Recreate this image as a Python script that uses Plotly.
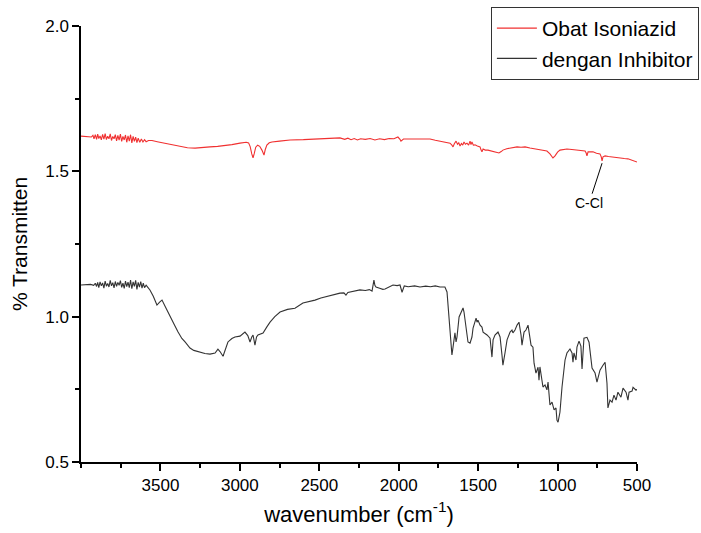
import plotly.graph_objects as go

# FTIR spectra: wavenumber (cm^-1) vs % transmittance
isoniazid_wn = [
    4000, 3960, 3935, 3925, 3918, 3910, 3902, 3895, 3888, 3880, 3872, 3864, 3856, 3848,
    3840, 3832, 3824, 3816, 3808, 3800, 3792, 3784, 3776, 3768, 3760, 3752, 3744, 3736,
    3728, 3720, 3712, 3704, 3696, 3688, 3680, 3672, 3664, 3656, 3648, 3640, 3630, 3620,
    3610, 3600, 3590, 3575, 3553, 3520, 3484, 3430, 3377, 3330, 3282, 3240, 3188, 3140,
    3094, 3050, 2999, 2960, 2945, 2935, 2925, 2917, 2910, 2900, 2888, 2875, 2861, 2848,
    2840, 2830, 2815, 2798, 2750, 2684, 2600, 2496, 2420, 2370, 2340, 2320, 2300, 2280,
    2260, 2240, 2210, 2180, 2150, 2120, 2090, 2060, 2030, 2005, 1992, 1986, 1970, 1929,
    1880, 1840, 1803, 1770, 1740, 1720, 1700, 1677, 1665, 1658, 1650, 1639, 1630, 1622,
    1614, 1605, 1597, 1589, 1580, 1570, 1560, 1551, 1545, 1539, 1530, 1520, 1505, 1488,
    1482, 1476, 1469, 1455, 1438, 1415, 1394, 1380, 1369, 1355, 1344, 1320, 1299, 1270,
    1255, 1230, 1205, 1174, 1140, 1111, 1085, 1067, 1048, 1038, 1029, 1016, 1000, 985,
    960, 941, 910, 878, 850, 827, 820, 815, 808, 790, 777, 755, 733, 725, 720, 714, 701,
    680, 657, 630, 607, 580, 557, 530, 515, 500,
]
isoniazid_t = [
    1.621, 1.619, 1.618, 1.624, 1.612, 1.626, 1.610, 1.628, 1.613, 1.622, 1.608, 1.627, 1.611, 1.630,
    1.609, 1.621, 1.612, 1.629, 1.606, 1.620, 1.612, 1.626, 1.605, 1.624, 1.607, 1.628, 1.603, 1.620,
    1.608, 1.625, 1.600, 1.622, 1.604, 1.626, 1.598, 1.620, 1.603, 1.618, 1.599, 1.614, 1.600, 1.611,
    1.601, 1.609, 1.602, 1.606, 1.606, 1.602, 1.598, 1.592, 1.585, 1.581, 1.580, 1.581, 1.584, 1.586,
    1.588, 1.592, 1.597, 1.600, 1.598, 1.585, 1.560, 1.546, 1.560, 1.583, 1.590, 1.586, 1.573, 1.556,
    1.575, 1.590, 1.598, 1.601, 1.604, 1.608, 1.609, 1.611, 1.612, 1.615, 1.610, 1.614, 1.609, 1.613,
    1.608, 1.612, 1.610, 1.613, 1.608, 1.612, 1.609, 1.613, 1.612, 1.618, 1.610, 1.604, 1.611, 1.611,
    1.609, 1.611, 1.611, 1.607, 1.604, 1.602, 1.600, 1.597, 1.590, 1.584, 1.595, 1.604, 1.593, 1.598,
    1.587, 1.596, 1.590, 1.601, 1.593, 1.597, 1.590, 1.604, 1.592, 1.601, 1.590, 1.591, 1.587, 1.584,
    1.574, 1.567, 1.577, 1.573, 1.573, 1.570, 1.567, 1.564, 1.563, 1.568, 1.573, 1.578, 1.580, 1.583,
    1.584, 1.583, 1.584, 1.580, 1.576, 1.573, 1.571, 1.570, 1.560, 1.552, 1.546, 1.553, 1.566, 1.573,
    1.576, 1.577, 1.575, 1.573, 1.572, 1.570, 1.563, 1.553, 1.567, 1.568, 1.567, 1.562, 1.560, 1.550, 1.536, 1.550, 1.553,
    1.551, 1.549, 1.547, 1.546, 1.544, 1.543, 1.538, 1.535, 1.532,
]

inhibitor_wn = [
    4000, 3970, 3940, 3920, 3910, 3902, 3895, 3888, 3880, 3872, 3864, 3856, 3848, 3840,
    3832, 3824, 3816, 3808, 3800, 3792, 3784, 3776, 3768, 3760, 3752, 3744, 3736, 3728,
    3720, 3712, 3704, 3696, 3688, 3680, 3672, 3664, 3656, 3648, 3640, 3632, 3624, 3616,
    3608, 3600, 3590, 3578, 3566, 3545, 3522, 3505, 3490, 3470, 3440, 3410, 3389, 3365,
    3345, 3314, 3290, 3251, 3220, 3188, 3156, 3138, 3125, 3106, 3090, 3075, 3050, 3031,
    2999, 2968, 2950, 2936, 2925, 2917, 2905, 2895, 2886, 2854, 2830, 2810, 2780, 2747,
    2700, 2653, 2603, 2560, 2527, 2490, 2450, 2410, 2370, 2345, 2332, 2320, 2290, 2244,
    2210, 2185, 2168, 2160, 2156, 2150, 2143, 2120, 2100, 2086, 2060, 2036, 2010, 1992,
    1979, 1965, 1940, 1900, 1866, 1830, 1800, 1770, 1740, 1709, 1696, 1690, 1677, 1665,
    1658, 1646, 1639, 1633, 1620, 1608, 1595, 1589, 1576, 1564, 1551, 1539, 1532, 1513,
    1507, 1501, 1488, 1476, 1469, 1444, 1425, 1413, 1406, 1394, 1375, 1362, 1350, 1344,
    1331, 1318, 1299, 1287, 1281, 1268, 1255, 1243, 1230, 1224, 1211, 1199, 1186, 1180,
    1167, 1155, 1148, 1136, 1123, 1117, 1111, 1092, 1079, 1067, 1060, 1048, 1035, 1022,
    1010, 1004, 997, 985, 972, 953, 941, 922, 909, 903, 897, 884, 878, 865, 853, 846,
    840, 834, 815, 802, 783, 764, 752, 733, 714, 701, 689, 683, 670, 657, 645, 632,
    620, 601, 588, 569, 557, 550, 531, 525, 506, 500,
]
inhibitor_t = [
    1.109, 1.110, 1.111, 1.108, 1.115, 1.104, 1.118, 1.100, 1.120, 1.106, 1.116, 1.098, 1.122, 1.105,
    1.114, 1.102, 1.125, 1.106, 1.117, 1.099, 1.121, 1.104, 1.118, 1.108, 1.124, 1.101, 1.115, 1.097,
    1.122, 1.103, 1.119, 1.100, 1.126, 1.096, 1.120, 1.104, 1.125, 1.094, 1.118, 1.102, 1.121, 1.098,
    1.115, 1.100, 1.108, 1.100, 1.092, 1.070, 1.040, 1.050, 1.057, 1.035, 1.005, 0.970, 0.947, 0.925,
    0.913, 0.892, 0.884, 0.878, 0.873, 0.871, 0.875, 0.888, 0.880, 0.864, 0.890, 0.913, 0.925, 0.930,
    0.933, 0.947, 0.935, 0.913, 0.930, 0.937, 0.902, 0.930, 0.937, 0.944, 0.965, 0.981, 1.000, 1.016,
    1.025, 1.029, 1.047, 1.052, 1.057, 1.064, 1.070, 1.076, 1.081, 1.082, 1.074, 1.083, 1.087, 1.092,
    1.090, 1.093, 1.088, 1.110, 1.126, 1.108, 1.102, 1.098, 1.094, 1.095, 1.102, 1.109, 1.107, 1.109,
    1.084, 1.106, 1.103, 1.106, 1.102, 1.105, 1.103, 1.106, 1.102, 1.102, 1.085, 1.047, 0.954, 0.868,
    0.895, 0.944, 0.913, 0.930, 0.999, 1.016, 1.030, 1.016, 0.961, 0.913, 0.909, 0.930, 0.961, 0.995,
    0.981, 0.988, 0.971, 0.964, 0.947, 0.937, 0.926, 0.861, 0.920, 0.937, 0.947, 0.930, 0.868, 0.833,
    0.875, 0.920, 0.947, 0.954, 0.944, 0.954, 0.971, 0.981, 0.937, 0.902, 0.947, 0.954, 0.971, 0.947,
    0.902, 0.895, 0.840, 0.806, 0.826, 0.781, 0.827, 0.758, 0.765, 0.748, 0.775, 0.696, 0.706, 0.679,
    0.686, 0.644, 0.637, 0.671, 0.758, 0.851, 0.875, 0.889, 0.875, 0.843, 0.875, 0.851, 0.895, 0.916, 0.899, 0.820,
    0.885, 0.926, 0.929, 0.912, 0.823, 0.806, 0.775, 0.816, 0.833, 0.843, 0.771, 0.686, 0.713, 0.706, 0.730, 0.713,
    0.740, 0.723, 0.754, 0.740, 0.713, 0.740, 0.744, 0.757, 0.747, 0.750,
]

series_names = ["Obat Isoniazid", "dengan Inhibitor"]
x_ticks = [3500, 3000, 2500, 2000, 1500, 1000, 500]
y_ticks = [0.5, 1.0, 1.5, 2.0]
peak_label = "C-Cl"
peak_wn = 720
peak_t = 1.536

FONT = "Liberation Sans, Arial, sans-serif"

fig = go.Figure()
fig.add_trace(go.Scatter(
    x=isoniazid_wn, y=isoniazid_t, mode="lines", name=series_names[0],
    line=dict(color="#f03030", width=1.1),
))
fig.add_trace(go.Scatter(
    x=inhibitor_wn, y=inhibitor_t, mode="lines", name=series_names[1],
    line=dict(color="#333333", width=1.1),
))

fig.add_annotation(
    x=peak_wn, y=peak_t - 0.008, text=peak_label, showarrow=True, arrowhead=0,
    arrowwidth=1, arrowcolor="#000000", ax=-13, ay=40, standoff=0,
    font=dict(family=FONT, size=14, color="#000000"),
)

axis_common = dict(
    showline=True, linecolor="#000000", linewidth=1.5, mirror=False,
    ticks="outside", ticklen=7, tickwidth=1.5, tickcolor="#000000",
    showgrid=False, zeroline=False,
    tickfont=dict(family=FONT, size=17, color="#000000"),
)

fig.update_xaxes(
    range=[4000, 500], tickmode="array", tickvals=x_ticks,
    minor=dict(dtick=250, tick0=500, ticks="outside", ticklen=4, tickwidth=1.5, tickcolor="#000000"),
    title=dict(text="wavenumber (cm<sup>-1</sup>)", font=dict(family=FONT, size=22, color="#000000"), standoff=12),
    **axis_common,
)
fig.update_yaxes(
    range=[0.5, 2.0], tickmode="array", tickvals=y_ticks, tickformat=".1f",
    minor=dict(dtick=0.25, tick0=0.5, ticks="outside", ticklen=4, tickwidth=1.5, tickcolor="#000000"),
    title=dict(text="% Transmitten", font=dict(family=FONT, size=21, color="#000000"), standoff=12),
    **axis_common,
)

fig.update_layout(
    width=701, height=533,
    margin=dict(l=81, r=64, t=26, b=71, autoexpand=False),
    plot_bgcolor="#ffffff", paper_bgcolor="#ffffff",
    showlegend=True,
    legend=dict(
        xref="container", yref="container",
        x=0.997, y=0.987, xanchor="right", yanchor="top",
        bgcolor="#ffffff", bordercolor="#333333", borderwidth=1,
        font=dict(family=FONT, size=21, color="#000000"),
        tracegroupgap=0, itemwidth=40,
    ),
)

fig.write_html("out.html")
